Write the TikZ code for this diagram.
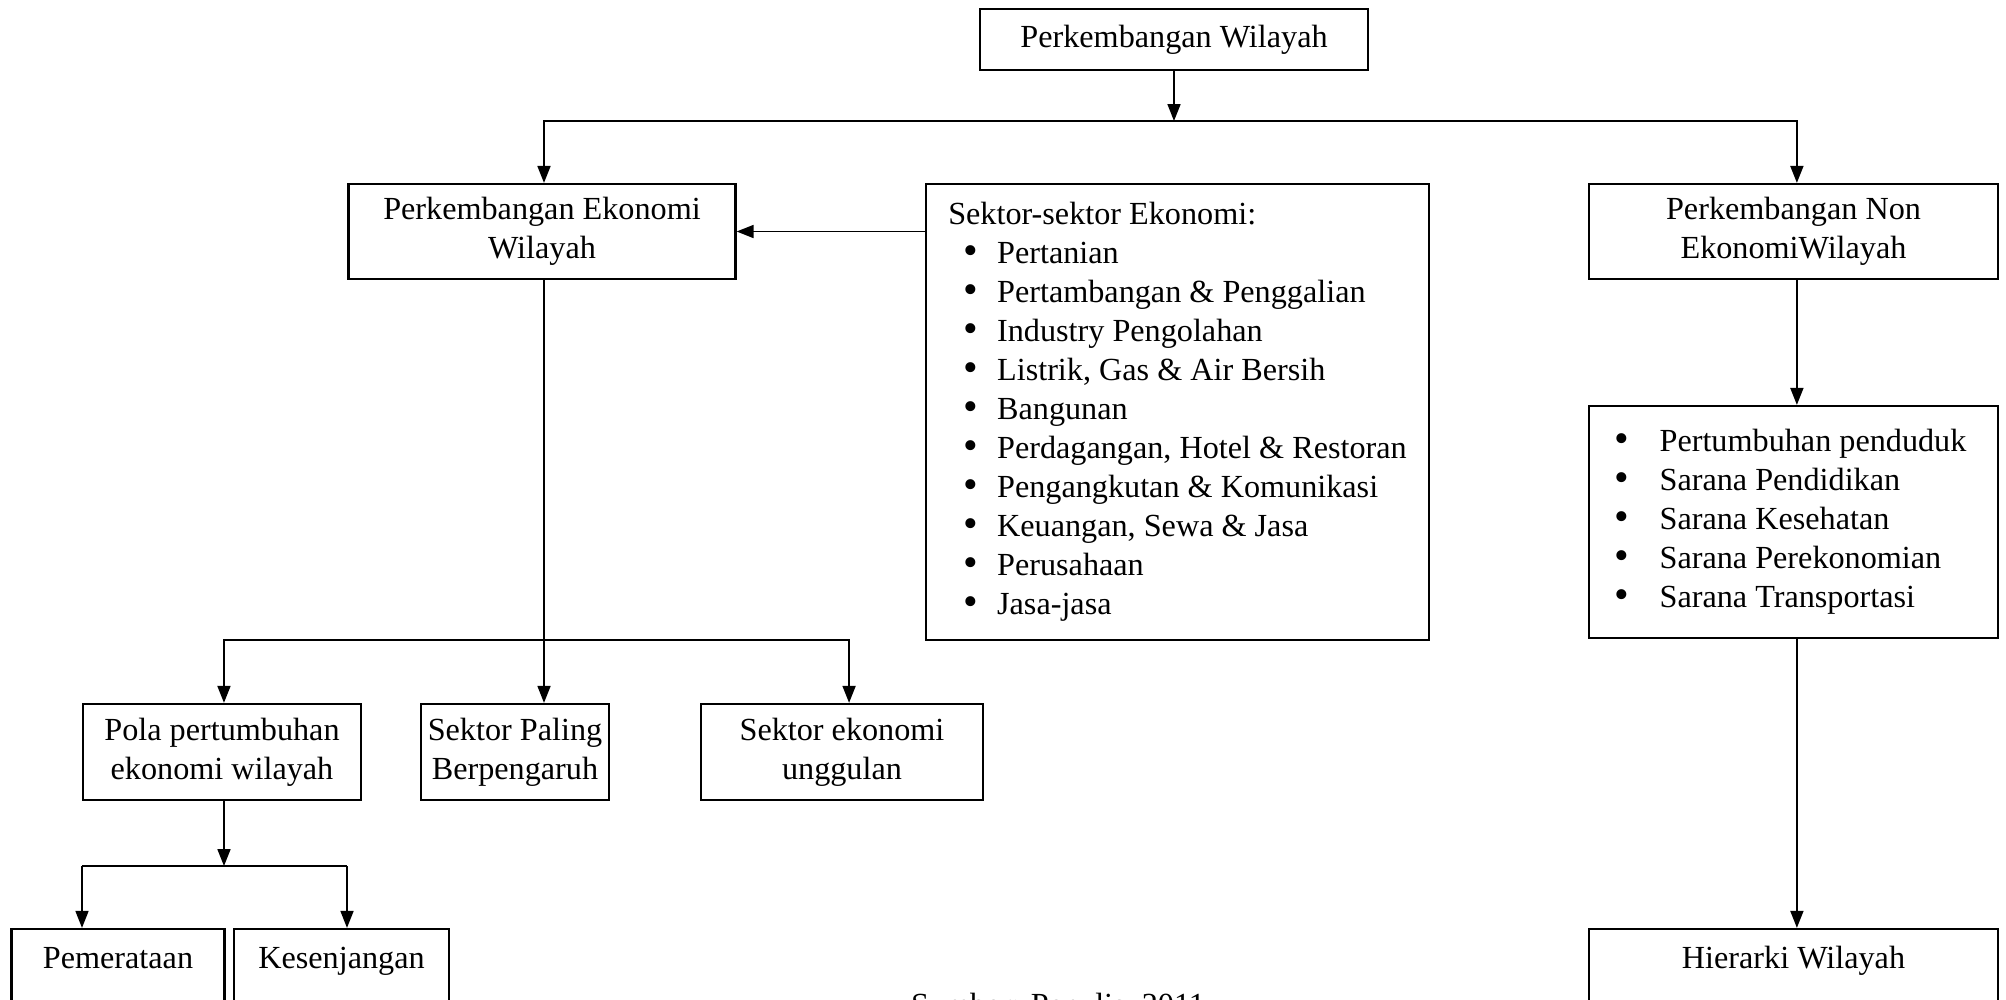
\documentclass[tikz,border=0pt]{standalone}
\usepackage{fontspec}
\setmainfont{Liberation Serif}
\usepackage{tikz}
\usetikzlibrary{arrows.meta}

\tikzset{
  kotak/.style={draw, line width=0.8pt, align=center, inner sep=0pt, font=\fontsize{11.4}{13.8}\selectfont},
  panah/.style={line width=0.6pt, -{Triangle[length=6pt,width=4.6pt]}},
  garis/.style={line width=0.6pt},
}
\newcommand{\titik}{\raisebox{-0.3pt}{\scalebox{1.3}{\textbullet}}}

\begin{document}
\begin{tikzpicture}[x=0.354pt,y=0.354pt,yscale=-1,xscale=1]
\useasboundingbox (0,0) rectangle (2006,999);

% Kotak atas
\node[kotak, minimum width=137.4pt, minimum height=21.6pt] (wilayah) at (1174,39.5) {Perkembangan Wilayah};
% Kotak level 2
\node[kotak, minimum width=137pt, minimum height=33.6pt] (ekonomi) at (542,231.5) {Perkembangan Ekonomi\\Wilayah};
\node[kotak, minimum width=178.1pt, minimum height=161.4pt] (sektor) at (1177.5,412) {%
\begin{tabular}{@{\hspace{5.3pt}}p{12pt}@{}l@{}}
\multicolumn{2}{@{}l@{}}{Sektor-sektor Ekonomi:}\\
\titik & Pertanian\\
\titik & Pertambangan \& Penggalian\\
\titik & Industry Pengolahan\\
\titik & Listrik, Gas \& Air Bersih\\
\titik & Bangunan\\
\titik & Perdagangan, Hotel \& Restoran\\
\titik & Pengangkutan \& Komunikasi\\
\titik & Keuangan, Sewa \& Jasa\\
\titik & Perusahaan\\
\titik & Jasa-jasa
\end{tabular}};
\node[kotak, minimum width=144.8pt, minimum height=33.6pt] (nonekonomi) at (1793.5,231.5) {Perkembangan Non\\EkonomiWilayah};
% Kotak sarana
\node[kotak, minimum width=144.8pt, minimum height=82.1pt] (sarana) at (1793.5,522) {%
\begin{tabular}{@{}p{16pt}@{}l@{\hspace{2.2pt}}}
\titik & Pertumbuhan penduduk\\
\titik & Sarana Pendidikan\\
\titik & Sarana Kesehatan\\
\titik & Sarana Perekonomian\\
\titik & Sarana Transportasi
\end{tabular}};
\node[kotak, minimum width=144.8pt, minimum height=34pt] (hierarki) at (1793.5,977) {Hierarki Wilayah\\\mbox{}};
% Kotak level 3
\node[kotak, minimum width=98.4pt, minimum height=34pt] (pola) at (222,752) {Pola pertumbuhan\\ekonomi wilayah};
\node[kotak, minimum width=66.6pt, minimum height=34pt] (paling) at (515,752) {Sektor Paling\\Berpengaruh};
\node[kotak, minimum width=99.8pt, minimum height=34pt] (unggulan) at (842,752) {Sektor ekonomi\\unggulan};
% Kotak level 4
\node[kotak, minimum width=75.4pt, minimum height=34pt] (merata) at (118,977) {Pemerataan\\\mbox{}};
\node[kotak, minimum width=76.1pt, minimum height=34pt] (senjang) at (341.5,977) {Kesenjangan\\\mbox{}};

% Text Node
\node[inner sep=0pt, anchor=base, font=\fontsize{11.4}{13.8}\selectfont] (sumber) at (1058,1015) {Sumber: Penulis, 2011};

% Garis cabang
\coordinate (cabang1) at (1174,121);
\coordinate (cabang2) at (544,640);
\coordinate (cabang3) at (224,866);
\coordinate (kiri3) at (82,866);
\coordinate (kanan3) at (347,866);

%Straight Lines
\draw[panah] (wilayah.south) -- (cabang1);
\draw[panah] (cabang1) -| (ekonomi.north -| cabang2);
\draw[panah] (cabang1) -| ([xshift=1.2pt]nonekonomi.north);
\draw[panah] (sektor.west |- ekonomi.east) -- (ekonomi.east);
%Straight Lines
\draw[panah] (ekonomi.south -| cabang2) -- (paling.north -| cabang2);
\draw[panah] (cabang2) -| ([xshift=0.7pt]pola.north);
\draw[panah] (cabang2) -| ([xshift=2.5pt]unggulan.north);
%Straight Lines
\draw[panah] (pola.south -| cabang3) -- (cabang3);
\draw[garis] (kiri3) -- (kanan3);
\draw[panah] (kiri3) -- (kiri3 |- merata.north);
\draw[panah] (kanan3) -- (kanan3 |- senjang.north);
%Straight Lines
\draw[panah] ([xshift=1.2pt]nonekonomi.south) -- ([xshift=1.2pt]sarana.north);
\draw[panah] ([xshift=1.2pt]sarana.south) -- ([xshift=1.2pt]hierarki.north);

\end{tikzpicture}
\end{document}
